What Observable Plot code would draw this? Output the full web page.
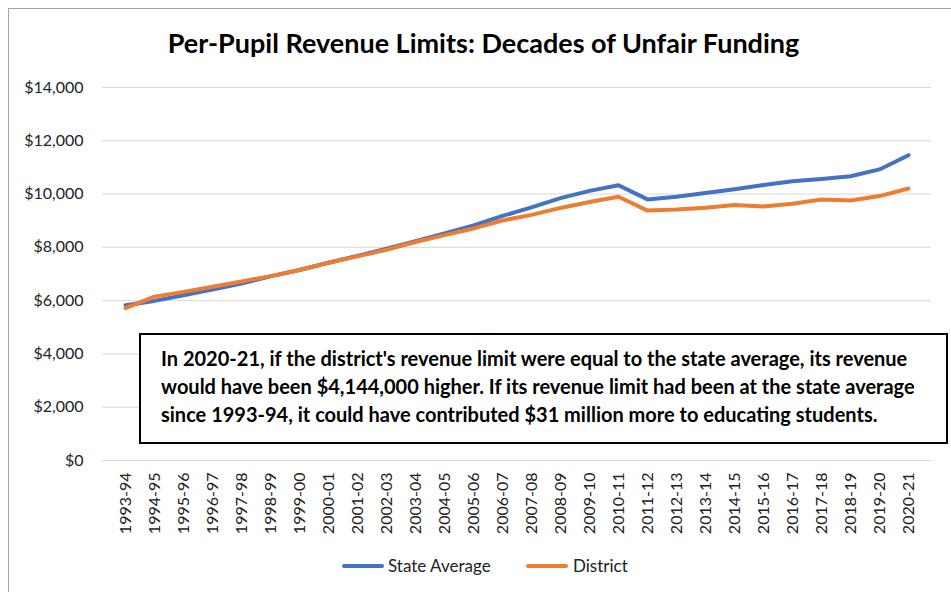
<!DOCTYPE html>
<html>
<head>
<meta charset="utf-8">
<script src="https://cdn.jsdelivr.net/npm/d3@7"></script>
<script src="https://cdn.jsdelivr.net/npm/@observablehq/plot@0.6"></script>
<style>
  html, body { margin: 0; padding: 0; background: #fff; }
  #wrap { position: relative; width: 951px; height: 592px; overflow: hidden; font-family: Lato, "Open Sans", sans-serif; }
  #frame { position: absolute; left: 8px; top: 8px; width: 960px; height: 600px; border-top: 1.5px solid #a6a6a6; border-left: 1.5px solid #a6a6a6; }
  #chart { position: absolute; left: 0; top: 0; }
  #title { position: absolute; left: 0; width: 951px; top: 26px; text-align: center; font-weight: bold; font-size: 27px; color: #000; margin-left: 8px; }
  #note { position: absolute; left: 139px; top: 333px; width: 805px; height: 107px; border: 2px solid #000; background: #fff; box-sizing: content-box; }
  #note div { position: absolute; left: 20px; top: 9px; font-weight: bold; font-size: 20px; line-height: 28px; color: #000; white-space: nowrap; }
  #legend { position: absolute; top: 556px; left: 0; width: 951px; height: 22px; }
  .lg { position: absolute; top: 0; font-size: 17px; line-height: 20px; color: #222; }
  .sw { position: absolute; top: 8px; width: 42px; height: 4px; border-radius: 2px; }
</style>
</head>
<body>
<div id="wrap">
  <div id="frame"></div>
  <div id="chart"></div>
  <div id="title"></div>
  <div id="note"><div id="notetext"></div></div>
  <div id="legend"></div>
</div>
<script>
const years = ["1993-94","1994-95","1995-96","1996-97","1997-98","1998-99","1999-00","2000-01","2001-02","2002-03","2003-04","2004-05","2005-06","2006-07","2007-08","2008-09","2009-10","2010-11","2011-12","2012-13","2013-14","2014-15","2015-16","2016-17","2017-18","2018-19","2019-20","2020-21"];
const stateAverage = [5830, 5990, 6200, 6420, 6640, 6910, 7150, 7420, 7680, 7950, 8230, 8520, 8820, 9180, 9500, 9850, 10120, 10330, 9800, 9900, 10040, 10180, 10340, 10480, 10570, 10670, 10925, 11460];
const district = [5720, 6150, 6330, 6520, 6720, 6920, 7150, 7420, 7660, 7910, 8200, 8460, 8710, 9010, 9220, 9480, 9700, 9900, 9380, 9420, 9490, 9590, 9530, 9640, 9800, 9760, 9925, 10210];
const seriesNames = ["State Average", "District"];
const seriesColors = ["#4472C4", "#ED7D31"];
const yTicks = [0, 2000, 4000, 6000, 8000, 10000, 12000, 14000];
const titleText = "Per-Pupil Revenue Limits: Decades of Unfair Funding";
const noteLines = [
  "In 2020-21, if the district's revenue limit were equal to the state average, its revenue",
  "would have been $4,144,000 higher. If its revenue limit had been at the state average",
  "since 1993-94, it could have contributed $31 million more to educating students."
];

const rows = [];
years.forEach((y, i) => {
  rows.push({year: y, value: stateAverage[i], series: seriesNames[0]});
});
years.forEach((y, i) => {
  rows.push({year: y, value: district[i], series: seriesNames[1]});
});

const chart = Plot.plot({
  width: 951,
  height: 592,
  marginTop: 87,
  marginBottom: 132,
  marginLeft: 102,
  marginRight: 20,
  style: {fontFamily: "Lato, 'Open Sans', sans-serif", fontSize: "16px", color: "#222", background: "transparent"},
  x: {type: "point", domain: years, padding: 0.5, label: null, tickSize: 0, tickPadding: 12, tickRotate: -90},
  y: {domain: [0, 14000], ticks: yTicks, tickFormat: d3.format("$,.0f"), label: null, tickSize: 0, tickPadding: 19},
  color: {domain: seriesNames, range: seriesColors},
  marks: [
    Plot.gridY(yTicks, {stroke: "#d9d9d9", strokeOpacity: 1, strokeWidth: 1}),
    Plot.axisX({tickSize: 0, tickPadding: 12, tickRotate: -90, fontSize: 16, fill: "#222"}),
    Plot.axisY({ticks: yTicks, tickFormat: d3.format("$,.0f"), tickSize: 0, tickPadding: 19, fontSize: 16, fill: "#222"}),
    Plot.lineY(rows, {x: "year", y: "value", z: "series", stroke: "series", strokeWidth: 4, strokeLinejoin: "round", strokeLinecap: "round"})
  ]
});
document.getElementById("chart").appendChild(chart);

document.getElementById("title").textContent = titleText;
document.getElementById("notetext").innerHTML = noteLines.map(l => l.replace(/&/g,"&amp;").replace(/</g,"&lt;")).join("<br>");

const legend = document.getElementById("legend");
const legendPos = [{sw: 342, tx: 388}, {sw: 526, tx: 573}];
seriesNames.forEach((name, i) => {
  const sw = document.createElement("div");
  sw.className = "sw";
  sw.style.left = legendPos[i].sw + "px";
  sw.style.background = seriesColors[i];
  legend.appendChild(sw);
  const t = document.createElement("div");
  t.className = "lg";
  t.style.left = legendPos[i].tx + "px";
  t.textContent = name;
  legend.appendChild(t);
});
</script>
</body>
</html>
